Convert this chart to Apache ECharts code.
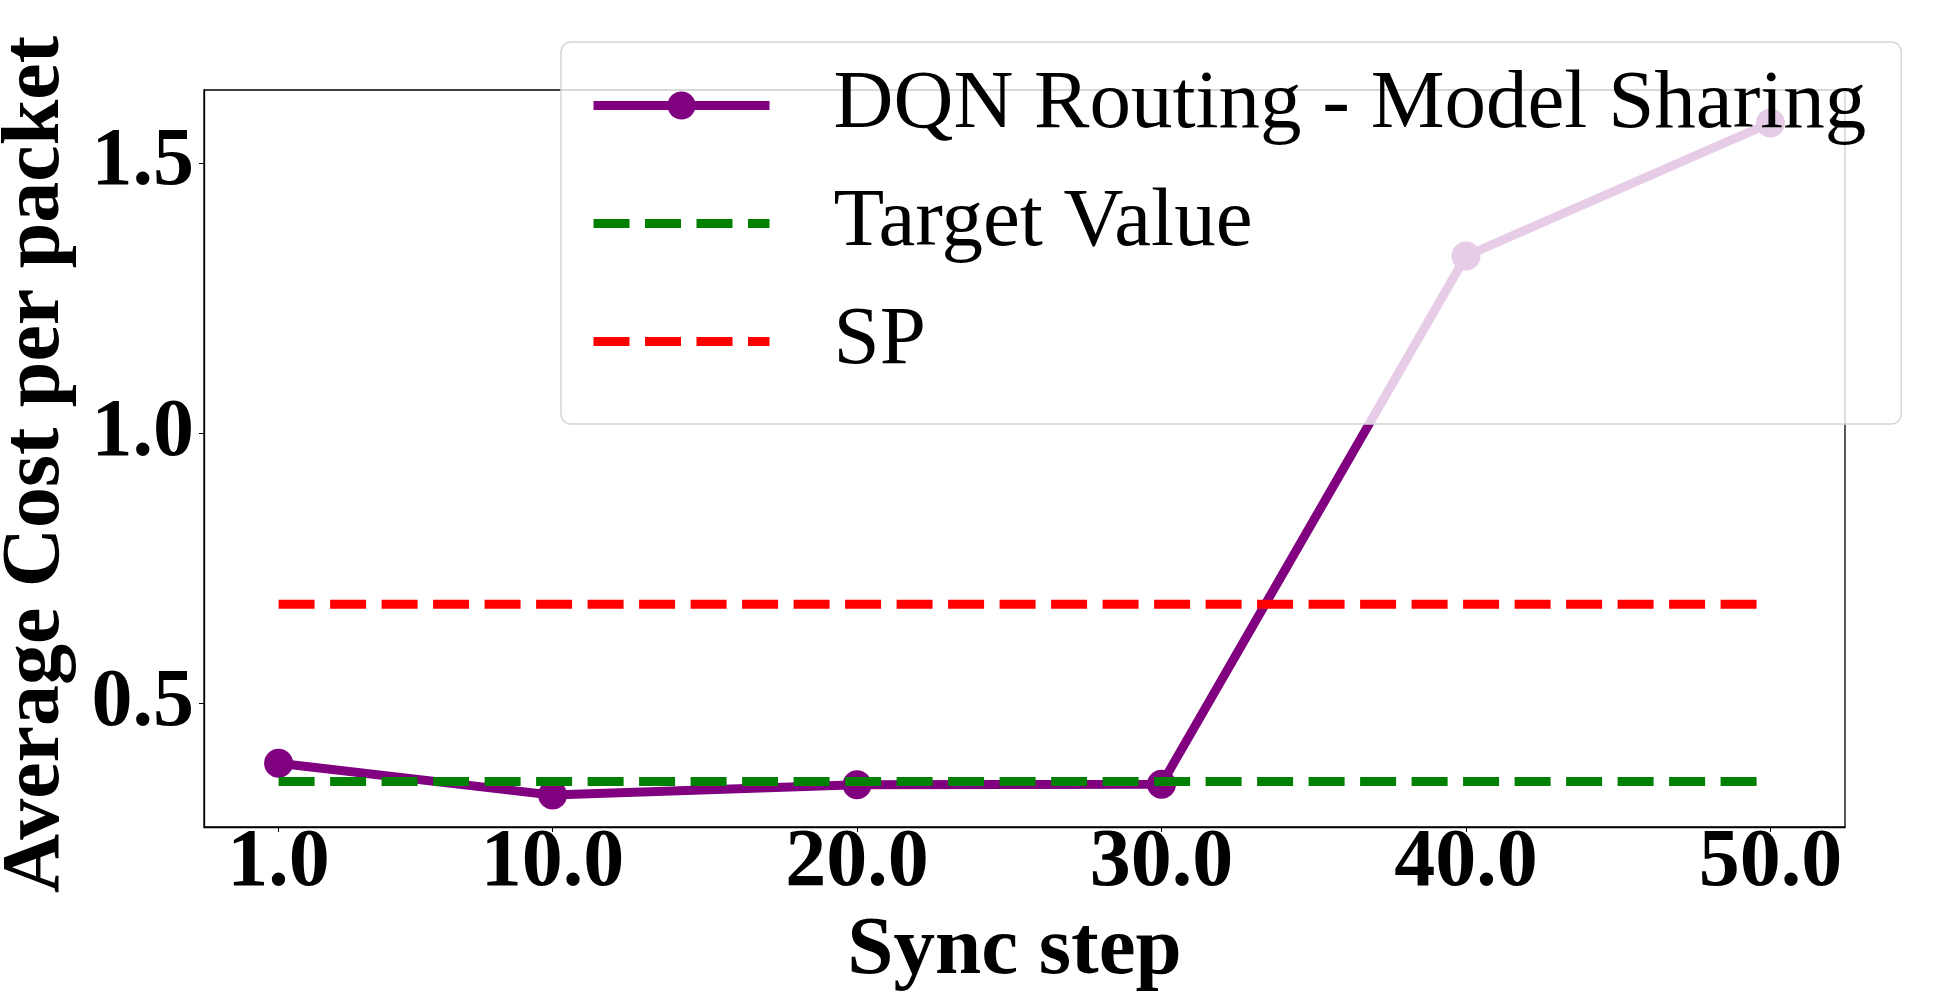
<!DOCTYPE html>
<html>
<head>
<meta charset="utf-8">
<script src="https://cdn.jsdelivr.net/npm/echarts@6/dist/echarts.min.js"></script>
<style>
html,body{margin:0;padding:0;background:#fff;}
#chart{width:1939px;height:1000px;}
</style>
</head>
<body>
<div id="chart"></div>
<script>
const syncSteps = [1, 10, 20, 30, 40, 50];
const dqnCost = [0.390, 0.331, 0.350, 0.351, 1.328, 1.574];
const targetValue = 0.356;
const spValue = 0.684;
const xTicks = [1, 10, 20, 30, 40, 50];
const yTicks = [0.5, 1.0, 1.5];
const seriesNames = ['DQN Routing - Model Sharing', 'Target Value', 'SP'];
const xTitle = 'Sync step';
const yTitle = 'Average Cost per packet';

const FONT = "'Liberation Serif', 'Times New Roman', 'DejaVu Serif', serif";
const dash = [36, 15.5];

const chart = echarts.init(document.getElementById('chart'), null, {renderer: 'canvas'});
const firstX = syncSteps[0], lastX = syncSteps[syncSteps.length - 1];

chart.setOption({
  animation: false,
  backgroundColor: '#ffffff',
  grid: {
    left: 204, top: 90, right: 94, bottom: 173,
    containLabel: false,
    outerBoundsMode: 'none',
    show: true, borderColor: '#000', borderWidth: 1.3, backgroundColor: 'transparent'
  },
  legend: {
    show: true,
    selectedMode: false,
    data: [
      {name: seriesNames[0]},
      {name: seriesNames[1], itemStyle: {opacity: 0}},
      {name: seriesNames[2], itemStyle: {opacity: 0}}
    ],
    orient: 'vertical',
    left: 561, top: 42,
    padding: [22, 35, 41, 28],
    itemWidth: 176,
    itemHeight: 35,
    itemGap: 35,
    lineStyle: {width: 9},
    backgroundColor: 'rgba(255,255,255,0.8)',
    borderColor: '#d5d5d5',
    borderWidth: 1.5,
    borderRadius: 10,
    textStyle: {
      fontFamily: FONT, fontSize: 83, lineHeight: 80, color: '#000',
      padding: [0, 0, 0, 59]
    }
  },
  xAxis: {
    type: 'value',
    min: -1.45, max: 52.45,
    name: xTitle,
    nameLocation: 'middle',
    nameGap: 75,
    nameTextStyle: {fontFamily: FONT, fontSize: 83, fontWeight: 'bold', color: '#000', lineHeight: 84, padding: [0, 20, 0, 0]},
    axisLine: {show: true, onZero: false, lineStyle: {color: '#000', width: 1.3}},
    axisTick: {show: true, inside: false, length: 5, customValues: xTicks, lineStyle: {color: '#000', width: 1}},
    axisLabel: {
      customValues: xTicks,
      formatter: v => Number(v).toFixed(1),
      fontFamily: FONT, fontSize: 82, fontWeight: 'bold', color: '#000',
      lineHeight: 60, margin: 7
    },
    splitLine: {show: false}
  },
  yAxis: {
    type: 'value',
    min: 0.272, max: 1.635,
    name: yTitle,
    nameLocation: 'middle',
    nameRotate: 90,
    nameGap: 125,
    nameTextStyle: {fontFamily: FONT, fontSize: 82, fontWeight: 'bold', color: '#000', lineHeight: 84, padding: [0, 12, 0, 0]},
    axisLine: {show: true, onZero: false, lineStyle: {color: '#000', width: 1.3}},
    axisTick: {show: true, inside: false, length: 5, customValues: yTicks, lineStyle: {color: '#000', width: 1}},
    axisLabel: {
      customValues: yTicks,
      formatter: v => Number(v).toFixed(1),
      fontFamily: FONT, fontSize: 82, fontWeight: 'bold', color: '#000',
      margin: 10
    },
    splitLine: {show: false}
  },
  series: [
    {
      name: seriesNames[0],
      type: 'line',
      data: syncSteps.map((x, i) => [x, dqnCost[i]]),
      symbol: 'circle',
      symbolSize: 29,
      showSymbol: true,
      itemStyle: {color: '#800080'},
      lineStyle: {color: '#800080', width: 9},
      z: 2
    },
    {
      name: seriesNames[1],
      type: 'line',
      data: [[firstX, targetValue], [lastX, targetValue]],
      symbol: 'none',
      itemStyle: {color: '#008000'},
      lineStyle: {color: '#008000', width: 9, type: dash, cap: 'butt'},
      z: 3
    },
    {
      name: seriesNames[2],
      type: 'line',
      data: [[firstX, spValue], [lastX, spValue]],
      symbol: 'none',
      itemStyle: {color: '#ff0000'},
      lineStyle: {color: '#ff0000', width: 9, type: dash, cap: 'butt'},
      z: 3
    }
  ]
});
</script>
</body>
</html>
